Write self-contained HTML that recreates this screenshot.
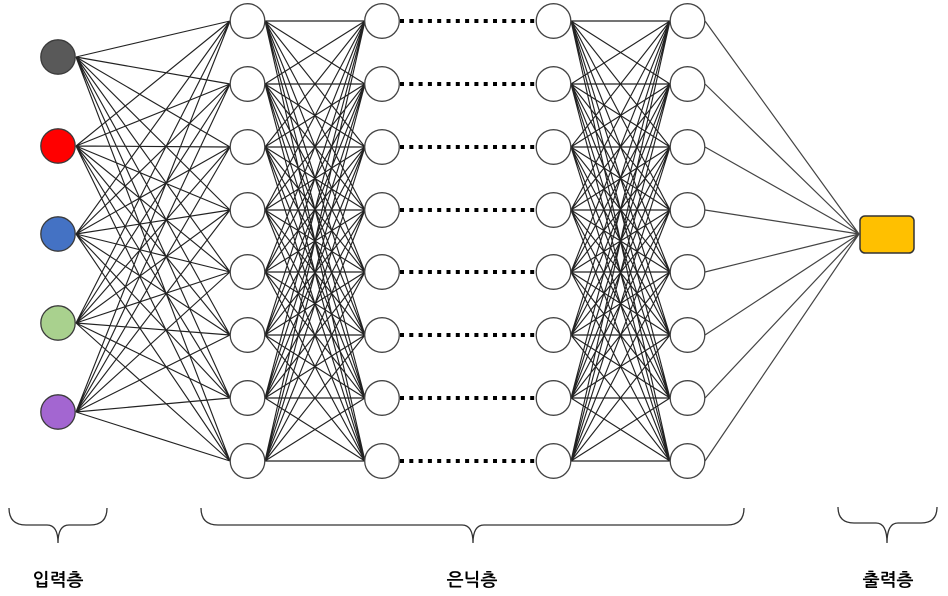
<!DOCTYPE html>
<html><head><meta charset="utf-8"><style>
html,body{margin:0;padding:0;background:#fff;}
svg{display:block;}
text{font-family:"Liberation Sans","NanumGothic","Noto Sans CJK KR",sans-serif;}
</style></head><body>
<svg width="948" height="596" viewBox="0 0 948 596" xmlns="http://www.w3.org/2000/svg">
<rect width="948" height="596" fill="#fff"/>
<g stroke="#222" stroke-width="1.15" fill="none">
<path d="M76 57L230 21M76 57L230 84M76 57L230 147M76 57L230 210M76 57L230 272M76 57L230 335M76 57L230 398M76 57L230 461
M76 146L230 21M76 146L230 84M76 146L230 147M76 146L230 210M76 146L230 272M76 146L230 335M76 146L230 398M76 146L230 461
M76 234L230 21M76 234L230 84M76 234L230 147M76 234L230 210M76 234L230 272M76 234L230 335M76 234L230 398M76 234L230 461
M76 323L230 21M76 323L230 84M76 323L230 147M76 323L230 210M76 323L230 272M76 323L230 335M76 323L230 398M76 323L230 461
M76 412L230 21M76 412L230 84M76 412L230 147M76 412L230 210M76 412L230 272M76 412L230 335M76 412L230 398M76 412L230 461"/>
<path d="M265 21L365 21M265 21L365 84M265 21L365 147M265 21L365 210M265 21L365 272M265 21L365 335M265 21L365 398M265 21L365 461
M265 84L365 21M265 84L365 84M265 84L365 147M265 84L365 210M265 84L365 272M265 84L365 335M265 84L365 398M265 84L365 461
M265 147L365 21M265 147L365 84M265 147L365 147M265 147L365 210M265 147L365 272M265 147L365 335M265 147L365 398M265 147L365 461
M265 210L365 21M265 210L365 84M265 210L365 147M265 210L365 210M265 210L365 272M265 210L365 335M265 210L365 398M265 210L365 461
M265 272L365 21M265 272L365 84M265 272L365 147M265 272L365 210M265 272L365 272M265 272L365 335M265 272L365 398M265 272L365 461
M265 335L365 21M265 335L365 84M265 335L365 147M265 335L365 210M265 335L365 272M265 335L365 335M265 335L365 398M265 335L365 461
M265 398L365 21M265 398L365 84M265 398L365 147M265 398L365 210M265 398L365 272M265 398L365 335M265 398L365 398M265 398L365 461
M265 461L365 21M265 461L365 84M265 461L365 147M265 461L365 210M265 461L365 272M265 461L365 335M265 461L365 398M265 461L365 461"/>
<path d="M571 21L670 21M571 21L670 84M571 21L670 147M571 21L670 210M571 21L670 272M571 21L670 335M571 21L670 398M571 21L670 461
M571 84L670 21M571 84L670 84M571 84L670 147M571 84L670 210M571 84L670 272M571 84L670 335M571 84L670 398M571 84L670 461
M571 147L670 21M571 147L670 84M571 147L670 147M571 147L670 210M571 147L670 272M571 147L670 335M571 147L670 398M571 147L670 461
M571 210L670 21M571 210L670 84M571 210L670 147M571 210L670 210M571 210L670 272M571 210L670 335M571 210L670 398M571 210L670 461
M571 272L670 21M571 272L670 84M571 272L670 147M571 272L670 210M571 272L670 272M571 272L670 335M571 272L670 398M571 272L670 461
M571 335L670 21M571 335L670 84M571 335L670 147M571 335L670 210M571 335L670 272M571 335L670 335M571 335L670 398M571 335L670 461
M571 398L670 21M571 398L670 84M571 398L670 147M571 398L670 210M571 398L670 272M571 398L670 335M571 398L670 398M571 398L670 461
M571 461L670 21M571 461L670 84M571 461L670 147M571 461L670 210M571 461L670 272M571 461L670 335M571 461L670 398M571 461L670 461"/>
</g>
<path stroke="#444" stroke-width="1.2" fill="none" d="M705 21L859 234M705 84L859 234M705 147L859 234M705 210L859 234M705 272L859 234M705 335L859 234M705 398L859 234M705 461L859 234"/>
<g stroke="#000" stroke-width="4" stroke-dasharray="4 5.3">
<line x1="400" y1="21" x2="536" y2="21"/>
<line x1="400" y1="84" x2="536" y2="84"/>
<line x1="400" y1="147" x2="536" y2="147"/>
<line x1="400" y1="210" x2="536" y2="210"/>
<line x1="400" y1="272" x2="536" y2="272"/>
<line x1="400" y1="335" x2="536" y2="335"/>
<line x1="400" y1="398" x2="536" y2="398"/>
<line x1="400" y1="461" x2="536" y2="461"/>
</g>
<g stroke="#3a3a3a" stroke-width="1.3">
<circle cx="58" cy="57" r="17.2" fill="#595959"/>
<circle cx="58" cy="146" r="17.2" fill="#ff0000"/>
<circle cx="58" cy="234" r="17.2" fill="#4472c4"/>
<circle cx="58" cy="323" r="17.2" fill="#a9d18e"/>
<circle cx="58" cy="412" r="17.2" fill="#a366d1"/>
</g>
<g stroke="#444" stroke-width="1.3" fill="#fff">
<circle cx="247.5" cy="21" r="17.3"/><circle cx="247.5" cy="84" r="17.3"/><circle cx="247.5" cy="147" r="17.3"/><circle cx="247.5" cy="210" r="17.3"/><circle cx="247.5" cy="272" r="17.3"/><circle cx="247.5" cy="335" r="17.3"/><circle cx="247.5" cy="398" r="17.3"/><circle cx="247.5" cy="461" r="17.3"/>
<circle cx="382" cy="21" r="17.3"/><circle cx="382" cy="84" r="17.3"/><circle cx="382" cy="147" r="17.3"/><circle cx="382" cy="210" r="17.3"/><circle cx="382" cy="272" r="17.3"/><circle cx="382" cy="335" r="17.3"/><circle cx="382" cy="398" r="17.3"/><circle cx="382" cy="461" r="17.3"/>
<circle cx="553.5" cy="21" r="17.3"/><circle cx="553.5" cy="84" r="17.3"/><circle cx="553.5" cy="147" r="17.3"/><circle cx="553.5" cy="210" r="17.3"/><circle cx="553.5" cy="272" r="17.3"/><circle cx="553.5" cy="335" r="17.3"/><circle cx="553.5" cy="398" r="17.3"/><circle cx="553.5" cy="461" r="17.3"/>
<circle cx="687.5" cy="21" r="17.3"/><circle cx="687.5" cy="84" r="17.3"/><circle cx="687.5" cy="147" r="17.3"/><circle cx="687.5" cy="210" r="17.3"/><circle cx="687.5" cy="272" r="17.3"/><circle cx="687.5" cy="335" r="17.3"/><circle cx="687.5" cy="398" r="17.3"/><circle cx="687.5" cy="461" r="17.3"/>
</g>
<rect x="860" y="216" width="54" height="37" rx="5" fill="#ffc000" stroke="#333" stroke-width="1.5"/>
<g stroke="#333" stroke-width="1.3" fill="none">
<path d="M9 508Q9 525 26 525L47 525Q58 525 58 543Q58 525 69 525L90 525Q107 525 107 508"/>
<path d="M201 508Q201 525 218 525L462 525Q473 525 473 543Q473 525 484 525L727 525Q744 525 744 508"/>
<path d="M838 507Q838 523 854 523L876 523Q887 523 887 543Q887 523 898 523L921 523Q937 523 937 507"/>
</g>
<g font-size="18" fill="#000" text-anchor="middle" font-weight="bold">
<text x="58" y="586">입력층</text>
<text x="472" y="586">은닉층</text>
<text x="888" y="586">출력층</text>
</g>
</svg>
</body></html>
